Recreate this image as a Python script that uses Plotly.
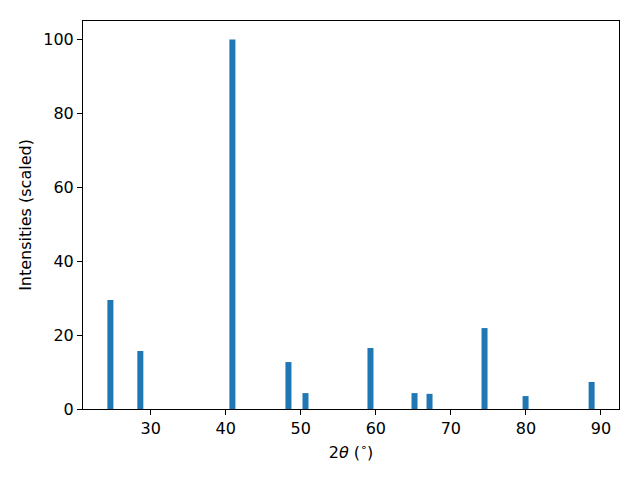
import plotly.graph_objects as go

two_theta = [24.63, 28.62, 40.89, 48.36, 50.63, 59.29, 65.16, 67.16, 74.49, 79.96, 88.76]
intensity = [29.5, 15.7, 100.0, 12.7, 4.3, 16.5, 4.3, 4.1, 21.9, 3.5, 7.3]
x_ticks = [30, 40, 50, 60, 70, 80, 90]
y_ticks = [0, 20, 40, 60, 80, 100]

fig = go.Figure(go.Bar(x=two_theta, y=intensity, width=0.8,
                       marker=dict(color="#1f77b4", line=dict(width=0))))

axis_common = dict(showline=True, linecolor="black", linewidth=1, mirror=True,
                   ticks="outside", ticklen=5, tickwidth=1, tickcolor="black",
                   showgrid=False, zeroline=False,
                   tickfont=dict(family="DejaVu Sans", size=16, color="black"))

fig.update_layout(
    width=640, height=480,
    margin=dict(l=75, r=29, t=13, b=79),
    paper_bgcolor="white", plot_bgcolor="white",
    font=dict(family="DejaVu Sans", color="black"),
    showlegend=False,
    xaxis=dict(range=[20.98, 92.41], tickvals=x_ticks,
               title=dict(text="2<i>θ</i> (<sup>∘</sup>)", font=dict(size=16), standoff=9),
               **axis_common),
    yaxis=dict(range=[0, 105], tickvals=y_ticks,
               title=dict(text="Intensities (scaled)", font=dict(size=16), standoff=7),
               **axis_common),
)

fig.write_html("out.html")
